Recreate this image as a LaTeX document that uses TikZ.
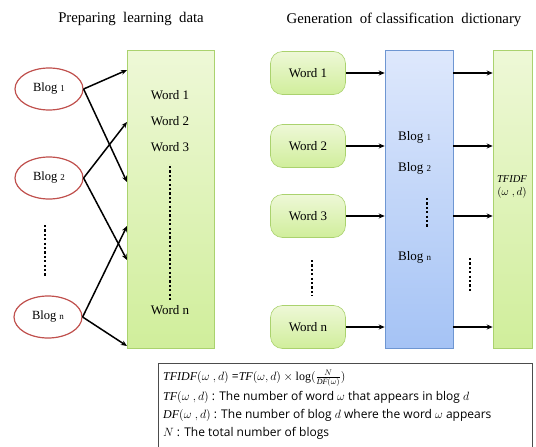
\documentclass[tikz,border=0pt]{standalone}
\usepackage{fontspec}
\setmainfont{Liberation Serif}
\newfontfamily\boxfont{Open Sans}
\usetikzlibrary{shapes.geometric,arrows.meta}
\definecolor{ellred}{RGB}{192,80,77}
\definecolor{grtop}{RGB}{238,248,215}
\definecolor{grbot}{RGB}{208,238,155}
\definecolor{grline}{RGB}{170,210,110}
\definecolor{bltop}{RGB}{222,232,252}
\definecolor{blbot}{RGB}{165,195,245}
\definecolor{blline}{RGB}{110,150,210}
\tikzset{
  blogell/.style={ellipse,draw=ellred,line width=1.2pt,fill=white,minimum width=68pt,minimum height=42pt,inner sep=0pt,font=\fontsize{12.5}{14}\selectfont},
  greenbar/.style={rectangle,draw=grline,line width=0.6pt,top color=grtop,bottom color=grbot,inner sep=0pt},
  bluebar/.style={rectangle,draw=blline,line width=0.6pt,top color=bltop,bottom color=blbot,inner sep=0pt},
  wordbox/.style={rectangle,rounded corners=12pt,draw=grline,line width=0.6pt,top color=grtop,bottom color=grbot,minimum width=75pt,minimum height=43pt,inner sep=0pt,font=\fontsize{13}{15}\selectfont},
  lbl/.style={inner sep=0pt,font=\fontsize{13}{15}\selectfont},
  arr/.style={-{Stealth[length=6pt,width=5pt]},line width=1.5pt},
  dotline/.style={line width=2.6pt,dash pattern=on 2.2pt off 2.2pt},
  ttl/.style={inner sep=0pt,font=\fontsize{14.8}{17}\selectfont},
  ftxt/.style={anchor=west,inner sep=0pt,font=\boxfont\fontsize{12}{14}\selectfont}
}
\begin{document}
\begin{tikzpicture}[x=1pt,y=-1pt]
\useasboundingbox (0,0) rectangle (536,447);
\clip (0,0) rectangle (536,447);
% titles
\node[ttl] (t1) at (131,19) {Preparing\ \ learning\ \ data};
\node[ttl] (t2) at (404,20) {Generation\ \ of classification\ \ dictionary};
% left part
\node[greenbar,minimum width=87pt,minimum height=298pt] (lrect) at (170.5,199) {};
\node[blogell] (b1) at (49,89) {Blog {\small 1}};
\node[blogell] (b2) at (49,178) {Blog {\small 2}};
\node[blogell] (bn) at (48,317) {Blog {\small n}};
\coordinate (ldA) at (45,225);
\coordinate (ldB) at (45,276);
\draw[dotline] (ldA) -- (ldB);
\coordinate (l1) at (127,70);
\coordinate (l2) at (127,182);
\coordinate (l3) at (127,122);
\coordinate (l4) at (127,260);
\coordinate (l5) at (127,226);
\coordinate (l6) at (127,346);
\draw[arr] (b1.east) -- (l1);
\draw[arr] (b1.east) -- (l2);
\draw[arr] (b2.east) -- (l3);
\draw[arr] (b2.east) -- (l4);
\draw[arr] (bn.east) -- (l5);
\draw[arr] (bn.east) -- (l6);
\node[lbl] (lw1) at (170,95) {Word 1};
\node[lbl] (lw2) at (170,121) {Word 2};
\node[lbl] (lw3) at (170,147) {Word 3};
\node[lbl] (lwn) at (170,310) {Word n};
\coordinate (lrA) at (170,166);
\coordinate (lrB) at (170,302);
\draw[dotline] (lrA) -- (lrB);
% right part
\node[bluebar,minimum width=68pt,minimum height=298pt] (blue) at (419,199) {};
\node[greenbar,minimum width=39pt,minimum height=298pt] (g2) at (512.5,199) {};
\node[wordbox] (w1) at (308,73) {Word 1};
\node[wordbox] (w2) at (308,146) {Word 2};
\node[wordbox] (w3) at (308,216) {Word 3};
\node[wordbox] (wn) at (308,327) {Word n};
\foreach \w in {w1,w2,w3,wn}{
  \draw[arr] (\w.east) -- (\w.east -| blue.west);
  \draw[arr] (\w.east -| blue.east) -- (\w.east -| g2.west);
}
\node[lbl,anchor=west] (bb1) at (398,137) {Blog {\small 1}};
\node[lbl,anchor=west] (bb2) at (398,168) {Blog {\small 2}};
\node[lbl,anchor=west] (bbn) at (398,257) {Blog {\small n}};
\coordinate (bdA) at (427,198);
\coordinate (bdB) at (427,228);
\draw[dotline] (bdA) -- (bdB);
\coordinate (wdA) at (312,260);
\coordinate (wdB) at (312,296);
\draw[dotline] (wdA) -- (wdB);
\coordinate (gdA) at (470,258);
\coordinate (gdB) at (470,293);
\draw[dotline] (gdA) -- (gdB);
\node[inner sep=0pt,font=\fontsize{10.5}{12}\selectfont,align=center] (tf) at (512,187) {$\mathit{TFIDF}$\\[1pt]$(\omega\;,d)$};
% formula box
\node[rectangle,draw=black!70,line width=0.7pt,minimum width=374pt,minimum height=92pt,inner sep=0pt] (fbox) at (345,409) {};
\node[ftxt] (f1) at (163,378) {$\mathit{TFIDF}(\omega\;,d)$ =$\mathit{TF}(\omega,d)\times\log(\frac{N}{\mathit{DF}(\omega)})$};
\node[ftxt] (f2) at (163,397) {$\mathit{TF}(\omega\;,d)$ : The number of word $\omega$ that appears in blog $d$};
\node[ftxt] (f3) at (163,415) {$\mathit{DF}(\omega\;,d)$ : The number of blog $d$ where the word $\omega$ appears};
\node[ftxt] (f4) at (163,433) {$N$ : The total number of blogs};
\end{tikzpicture}
\end{document}
